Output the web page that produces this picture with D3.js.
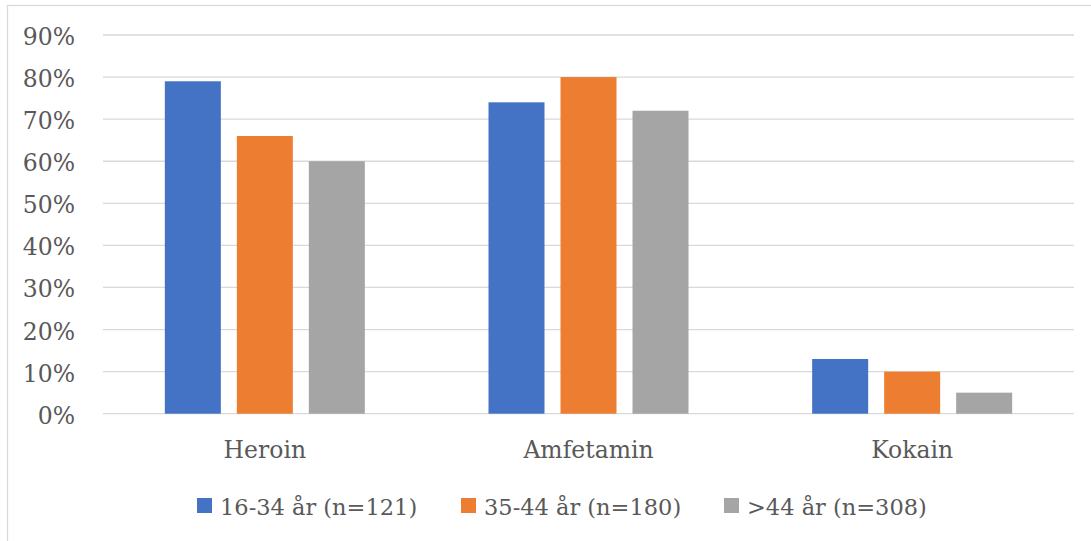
<!DOCTYPE html>
<html><head><meta charset="utf-8">
<script src="https://cdn.jsdelivr.net/npm/d3@7"></script>
<style>body{margin:0;background:#fff}svg{display:block}
svg text{font-family:"DejaVu Serif","Liberation Serif",serif;fill:#595959}</style>
</head><body>
<svg id="c" width="1091" height="541"></svg>
<script>
const categories = ["Heroin", "Amfetamin", "Kokain"];
const seriesNames = ["16-34 år (n=121)", "35-44 år (n=180)", ">44 år (n=308)"];
const colors = ["#4472C4", "#ED7D31", "#A5A5A5"];
const s1 = [79, 74, 13];
const s2 = [66, 80, 10];
const s3 = [60, 72, 5];
const yTicks = [0, 10, 20, 30, 40, 50, 60, 70, 80, 90];
const series = [s1, s2, s3];

(function(){
const svg = d3.select("#c");
const fs = 23.5;

svg.append("rect").attr("x", 7.5).attr("y", 5.5).attr("width", 1090).attr("height", 545)
  .attr("fill", "none").attr("stroke", "#D9D9D9").attr("stroke-width", 1.3);

const pL = 103, pR = 1074, pT = 35, pB = 413.7;
const x = d3.scaleBand().domain(categories).range([pL, pR]).paddingInner(0).paddingOuter(0);
const y = d3.scaleLinear().domain([0, 90]).range([pB, pT]);
const bw = x.bandwidth();
const xs = d3.scaleBand().domain(d3.range(3)).range([bw / 2 - 100, bw / 2 + 100]).paddingInner(16 / 72).paddingOuter(0);

svg.append("g").selectAll("line").data(yTicks).join("line")
  .attr("x1", pL).attr("x2", pR)
  .attr("y1", d => y(d)).attr("y2", d => y(d))
  .attr("stroke", "#D9D9D9").attr("stroke-width", 1.3);

svg.append("g").selectAll("text").data(yTicks).join("text")
  .attr("x", 75).attr("y", d => y(d) + 10)
  .attr("text-anchor", "end").attr("font-size", fs)
  .text(d => d + "%");

series.forEach((vals, si) => {
  svg.append("g").selectAll("rect").data(categories).join("rect")
    .attr("x", c => x(c) + xs(si))
    .attr("width", xs.bandwidth())
    .attr("y", (c, i) => y(vals[i]))
    .attr("height", (c, i) => y(0) - y(vals[i]))
    .attr("fill", colors[si]);
});

svg.append("g").selectAll("text").data(categories).join("text")
  .attr("x", c => x(c) + bw / 2).attr("y", 458)
  .attr("text-anchor", "middle").attr("font-size", fs)
  .text(c => c);

const legX = [197, 461, 724];
const leg = svg.append("g");
seriesNames.forEach((n, i) => {
  leg.append("rect").attr("x", legX[i]).attr("y", 498).attr("width", 15).attr("height", 15).attr("fill", colors[i]);
  leg.append("text").attr("x", legX[i] + 23).attr("y", 515)
    .attr("font-size", 22.5).text(n);
});
})();
</script>
</body></html>
